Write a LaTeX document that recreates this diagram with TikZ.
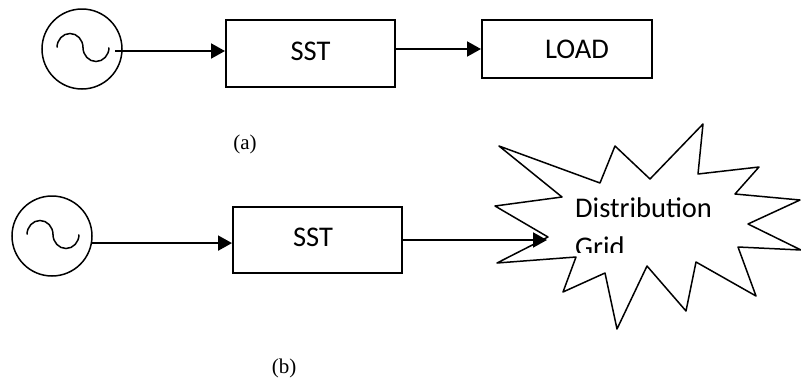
\documentclass[tikz,border=0pt]{standalone}
\usepackage{fontspec, tkz-euclide}
\usetikzlibrary{arrows.meta, calc}
\setmainfont{Liberation Serif}
\newfontfamily\calibri{Carlito}
\tikzset{box/.style = {draw, line width=2pt, inner sep=0pt, text height=18pt, text depth=5pt,
    font=\calibri\fontsize{28.5}{34}\selectfont},
  conn/.style = {line width=2pt, -{Triangle[length=14pt, width=15pt]}},
  gen/.style = {draw, circle, line width=1.5pt, minimum size=80pt, inner sep=0pt},
  wave/.style = {line width=1.5pt},
  caption/.style = {font=\fontsize{21}{25}\selectfont}}
\newcommand{\acwave}[1]{\draw[wave] (#1) ++(-25,-1.5)
  arc[start angle=180, end angle=360, x radius=13, y radius=14]
  arc[start angle=180, end angle=0, x radius=13, y radius=14];}

\begin{document}
\begin{tikzpicture}[x=1pt, y=-1pt]
\useasboundingbox (0,0) rectangle (801,381);
% (a)
\node[gen] (srca) at (82,49) {};
\acwave{srca}
\coordinate (srca-out) at (115,51);
\node[box, minimum width=169pt, minimum height=67pt] (ssta) at (310.5,53.5) {SST};
\node[box, minimum width=170pt, minimum height=58pt, text depth=-4pt] (load) at (567,49) {\hspace*{20pt}LOAD};
\draw[conn] (srca-out) -- (srca-out -| ssta.west);
\draw[conn] (ssta.east |- load) -- (load.west);
\node[caption] (capa) at (245,144) {(a)};
% (b)
\node[gen] (srcb) at (52,236) {};
\acwave{srcb}
\node[box, minimum width=169pt, minimum height=66pt] (sstb) at (317.5,240) {\hspace*{-9pt}SST};
\coordinate (gridin) at (547,240);
\draw[conn] (srcb.-10) -- (srcb.-10 -| sstb.west);
\draw[conn] (sstb.east) -- (gridin);
\tkzDefPoints{499/146/s1, 600/183/s2, 615/146/s3, 650/179/s4, 703/124/s5, 698/174/s6,
  759/167/s7, 735/194/s8, 800/200/s9, 748/224/s10, 801/250/s11, 738/247/s12,
  756/296/s13, 696/262/s14, 686/311/s15, 647/266/s16, 617/329/s17, 605/273/s18,
  563/292/s19, 576/257/s20, 497/263/s21, 548/237/s22, 495/206/s23, 562/197/s24}
\tkzDrawPolygon[line width=1.5pt](s1,s2,s3,s4,s5,s6,s7,s8,s9,s10,s11,s12,s13,s14,s15,s16,s17,s18,s19,s20,s21,s22,s23,s24)
\begin{scope}
\clip (560,190) rectangle (730,252);
\node[anchor=base west, inner sep=0pt, align=left, font=\calibri\fontsize{28.5}{39}\selectfont] (gridtxt) at (575,256) {Distribution\\Grid};
\end{scope}
\node[caption] (capb) at (284,368) {(b)};
\end{tikzpicture}
\end{document}
